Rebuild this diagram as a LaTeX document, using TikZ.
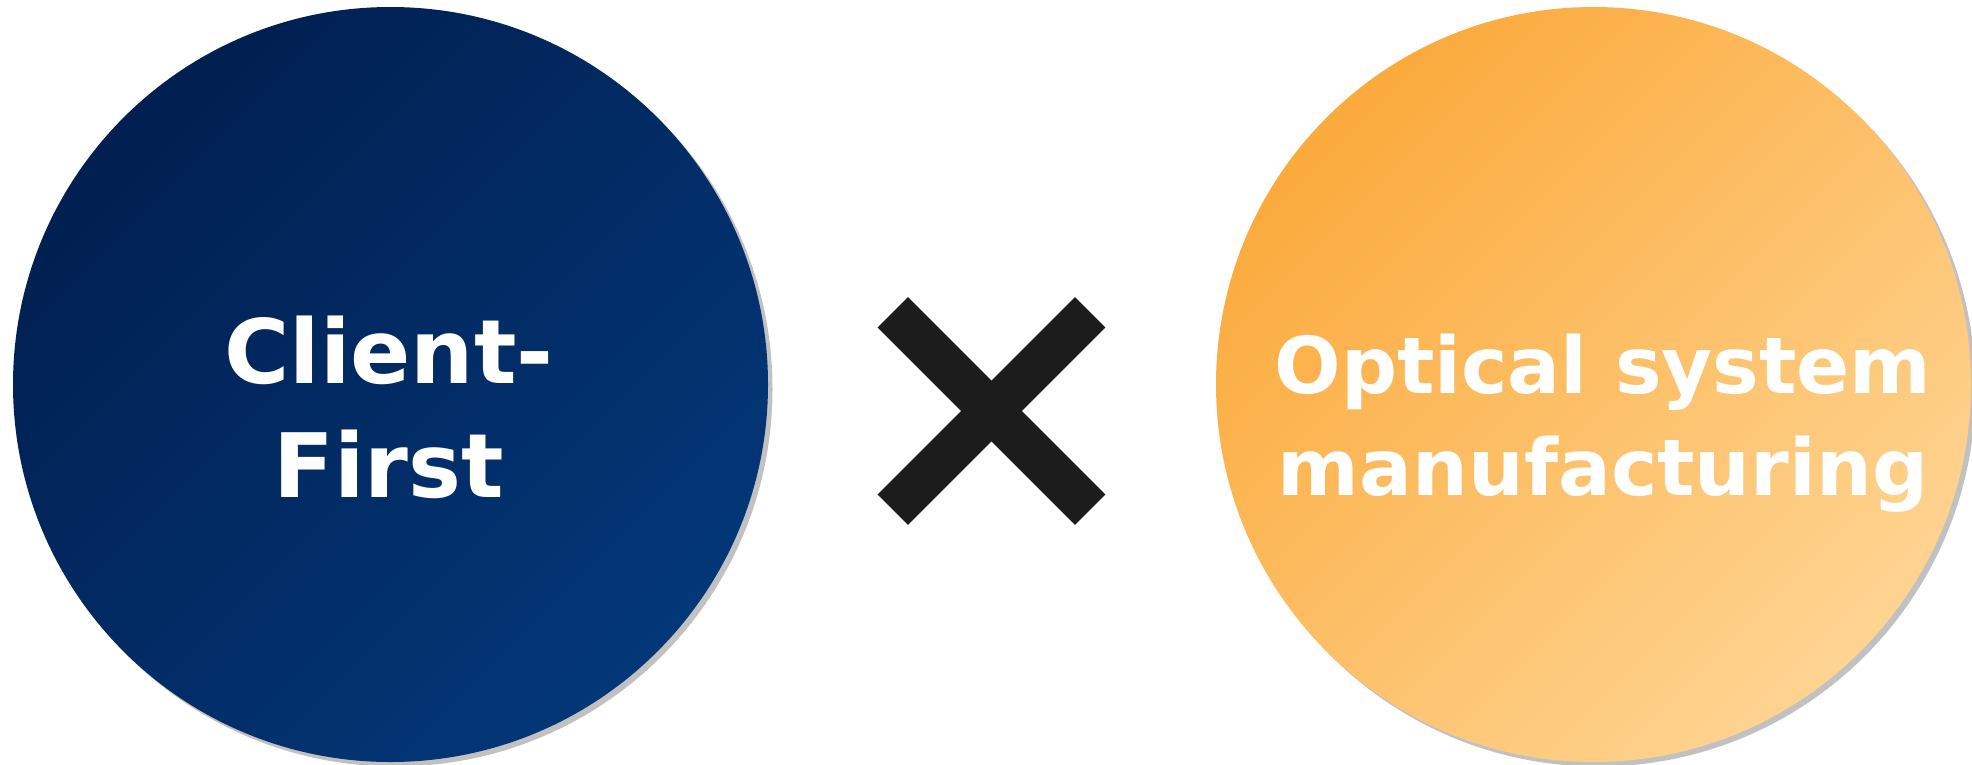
\documentclass[tikz,border=0pt]{standalone}
\usepackage{fontspec}
\setmainfont{DejaVu Sans}
\usetikzlibrary{shadows}
\definecolor{navydark}{RGB}{1,31,80}
\definecolor{navylight}{RGB}{3,55,120}
\definecolor{orangedark}{RGB}{251,170,60}
\definecolor{orangelight}{RGB}{254,212,146}
\definecolor{crossgray}{RGB}{28,28,28}
\tikzset{
  disc/.style      = {circle, minimum size=7.55cm, inner sep=0pt,
                      drop shadow={shadow xshift=0.045cm, shadow yshift=-0.045cm,
                                   opacity=0.35, fill=black!70}},
  navydisc/.style  = {disc, top color=navydark, bottom color=navylight,
                      shading angle=45},
  orangedisc/.style= {disc, top color=orangedark, bottom color=orangelight,
                      shading angle=45},
  disctext/.style  = {text=white, align=center, inner sep=0pt,
                      font=\fontsize{25.3}{32.4}\selectfont\bfseries},
  disctextsm/.style= {disctext, font=\fontsize{22.3}{29}\selectfont\bfseries},
  crossbar/.style  = {draw=crossgray, line width=0.43cm},
}

\begin{document}
\begin{tikzpicture}
  \useasboundingbox (0,0) rectangle (19.72,7.64);

  \node[navydisc]   (client) at (3.905, 3.795)  {};
  \node[orangedisc] (optics) at (15.935, 3.795) {};

  \node[disctext]   (clienttext) at (3.89, 3.565) {Client-\\First};
  \node[disctextsm] (opticstext) at (16.03, 3.41) {Optical system\\manufacturing};

  % the multiplication sign between both discs
  \node[minimum size=1.96cm, inner sep=0pt] (times) at (9.915, 3.53) {};
  \draw[crossbar] (times.north west) -- (times.south east);
  \draw[crossbar] (times.south west) -- (times.north east);
\end{tikzpicture}
\end{document}
